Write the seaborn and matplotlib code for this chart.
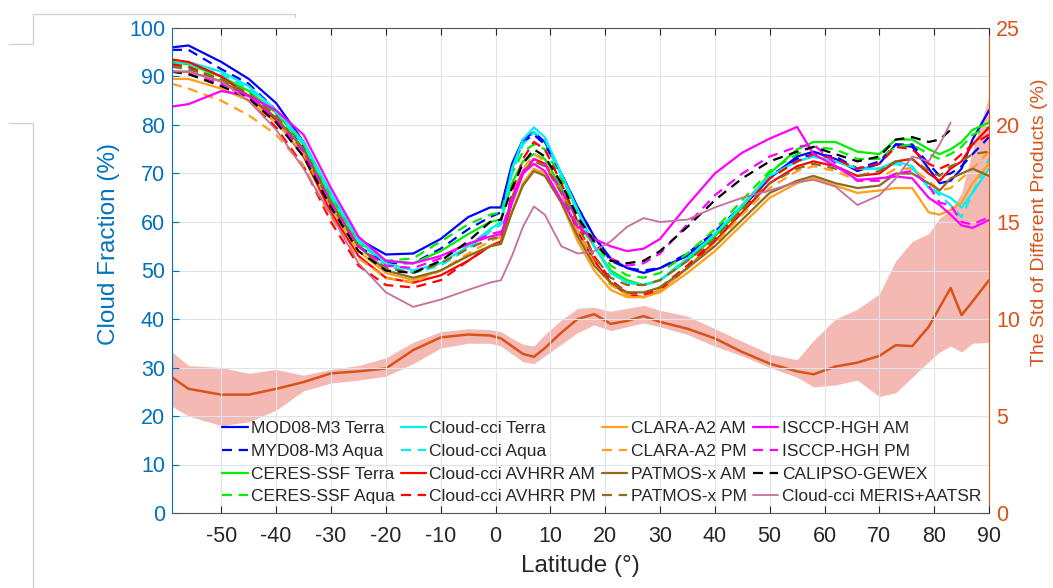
import numpy as np
import pandas as pd
import matplotlib
matplotlib.use("Agg")
import matplotlib.pyplot as plt
import seaborn as sns
from matplotlib.lines import Line2D

nan = np.nan
LAT = [-59, -56, -50, -45, -40, -35, -30, -25, -20, -15, -10, -5, -1, 1, 3, 5, 7, 9, 12, 15,
       18, 21, 24, 27, 30, 35, 40, 45, 50, 55, 58, 62, 66, 70, 73, 76, 79, 81, 83, 85, 87, 90]

MOD08_TERRA = [96, 96.4, 93, 89.5, 84.5, 76.5, 65.5, 56.5, 53.3, 53.5, 56.5, 61, 63, 63, 72, 77, 78.5, 76.5, 70, 63,
               57, 52.5, 50.5, 49.5, 50.5, 53, 57.5, 63, 69, 73.5, 74.5, 73, 70.5, 72, 76, 75.5, 71, 68, 68.5, 71, 77, 83]
MYD08_AQUA = [95.5, 95.5, 91.5, 88.5, 83, 75.5, 64, 55, 51.5, 51.5, 54.5, 58.5, 61, 62, 71, 76.5, 78, 76, 70, 63,
              57, 52, 50.5, 50, 50.5, 53.5, 58, 63.5, 69.5, 73, 74, 73.5, 71, 72.5, 76, 76, 72, 69.5, 70, 71.5, 74, 77.5]
CERES_TERRA = [93, 92.5, 90, 87, 82.5, 76, 65, 56, 52, 51.5, 54, 57.5, 60, 60.5, 68, 72.5, 74, 73, 67, 60,
               55, 50, 48, 47, 48, 52, 57, 63, 70, 75, 76.5, 76.5, 74.5, 74, 77, 77, 75, 74, 75, 76.5, 79, 80.5]
CERES_AQUA = [92.5, 92, 89.5, 86.5, 82, 75, 64.5, 55.5, 52, 52.5, 56, 59.5, 61.5, 62, 70, 74.5, 76, 75, 69, 62,
              56, 51, 49, 48.5, 49.5, 53.5, 58.5, 64.5, 70.5, 74, 75.5, 75, 73, 73, 75.5, 76, 74, 73, 74, 75.5, 78, 79.5]
CCI_TERRA = [92.5, 93, 91, 88, 83, 76.5, 66, 56.5, 51.5, 50, 51.5, 55, 58.5, 60, 71, 77, 79.5, 77.5, 70, 62.5,
             55, 49.5, 47.5, 47, 48, 52.5, 57.5, 63.5, 69.5, 72.5, 73.5, 72.5, 71, 71, 72.5, 71.5, 67, 66, 65, 63, 66, 71]
CCI_AQUA = [92, 92.5, 90.5, 87.5, 82.5, 76, 65.5, 56, 51, 49.5, 51, 54.5, 58, 59.5, 70, 76, 78.5, 77, 69.5, 62,
            55, 49.5, 47.5, 47, 48, 52.5, 57.5, 63.5, 69.5, 72.5, 73.5, 72.5, 71, 71, 72, 71, 67.5, 65.5, 63.5, 61, 66, 73]
AVHRR_AM = [93.5, 93, 90, 86, 81, 73.5, 62, 53, 48.5, 47.5, 49, 52, 55, 56, 64, 70, 73, 72, 66, 58,
            52, 47.5, 45, 44.5, 46, 50.5, 56, 62, 68, 71.5, 72.5, 71.5, 69.5, 70, 72.5, 73, 70, 68.5, 71, 72.5, 76, 79.5]
AVHRR_PM = [92.5, 92, 89, 85, 79.5, 71.5, 60, 51, 47, 46.5, 48, 52, 55, 56, 66, 73, 76.5, 75, 68, 60,
            53, 48, 45.5, 45, 46.5, 51, 56.5, 62.5, 69, 72.5, 74, 73, 71, 72, 75.5, 75, 72, 71, 72, 74, 76, 78]
CLARA_AM = [89.5, 89.5, 87.5, 85, 80.5, 74, 63, 54, 49.5, 48, 50, 53, 55, 55.5, 62, 68, 71, 70, 64, 56,
            50, 46, 44.5, 44.5, 45.5, 49.5, 54, 59.5, 65, 68, 69, 67.5, 66, 66.5, 67, 67, 62, 61.5, 62.5, 64, 68, 72]
CLARA_PM = [88.5, 87.5, 85, 82, 78, 71.5, 61, 52.5, 48.5, 47.5, 50, 53.5, 56, 57, 65, 71, 74, 72.5, 66, 58,
            51.5, 47, 45, 44.5, 46, 50.5, 55.5, 61.5, 67, 70.5, 71.5, 70.5, 68.5, 69, 71, 71, 68.5, 66.5, 67, 69, 71, 74.5]
PATMOS_AM = [91, 91, 89, 86, 81.5, 75, 64, 55, 50, 48.5, 50, 53, 55, 55.5, 62, 67.5, 70.5, 69.5, 64, 57,
             51, 47.5, 45.5, 45.5, 46.5, 50.5, 55, 60.5, 66, 68.5, 69.5, 68, 67, 67.5, 70, 70, 68, 66.5, 69, 70, 71, 69.5]
PATMOS_PM = [92, 91.5, 89.5, 86.5, 82, 74.5, 63.5, 55, 50.5, 49.5, 51.5, 54.5, 56.5, 57, 65, 70.5, 72.5, 71.5, 66, 59,
             53, 48.5, 47, 47, 48, 52, 56.5, 62.5, 68, 71, 72, 71, 69.5, 70.5, 72.5, 73, 70.5, 69.5, 71.5, 72.5, 74, 74.5]
ISCCP_AM = [83.8, 84.3, 87, 86, 83, 78, 67, 57, 52, 51.5, 53, 55.5, 57, 57.5, 64, 70, 72, 70.5, 64.5, 59,
            56.5, 55, 54, 54.5, 56.5, 63.5, 70, 74.3, 77.2, 79.6, 74, 71.5, 68.7, 69, 69.4, 69, 65, 63.5, 61.5, 59.3, 58.8, 60.4]
ISCCP_PM = [91, 90.5, 88.5, 86, 81, 74.5, 64, 55, 51, 50.5, 52.5, 55.5, 57.5, 58, 65, 70.5, 73, 72, 66.5, 60.5,
            55.5, 52.5, 51, 51.5, 53.5, 59.5, 65.5, 70, 73.5, 75.5, 76, 72, 68.5, 68.5, 70, 70.5, 67.5, 64, 63.5, 60, 59.5, 61]
CALIPSO = [91, 90.5, 88, 85.5, 80.5, 73.5, 63, 54, 50, 49.5, 52, 56, 60, 60.5, 67, 72, 75, 73.5, 68, 61,
           56, 52, 51.5, 52, 54, 59, 64.5, 69, 72.5, 74.5, 75.5, 74, 72.5, 73.5, 77, 77.5, 76.5, 77, 79, nan, nan, nan]
MERIS = [91, 91, 89, 85, 79, 71, 61.5, 51.5, 45.5, 42.5, 44, 46, 47.5, 48, 53, 59, 63.2, 61.5, 55, 53.5,
         54, 56, 59, 60.8, 60, 60.5, 63, 65, 66.5, 68.2, 68.7, 67.3, 63.5, 65.5, 69, 73.5, 72.5, 76, 80.5, nan, nan, nan]

# standard deviation of the products (right axis)
STD_MEAN = [7.0, 6.4, 6.1, 6.1, 6.4, 6.75, 7.2, 7.3, 7.45, 8.4, 9.05, 9.2, 9.15, 9.0, 8.6, 8.2, 8.05, 8.5, 9.3, 10.0,
            10.25, 9.75, 9.9, 10.15, 9.85, 9.5, 9.0, 8.3, 7.7, 7.3, 7.15, 7.55, 7.75, 8.1, 8.65, 8.6, 9.6, 10.6, 11.6, 10.2, 10.9, 12.0]
STD_LOW = [5.5, 5.0, 4.5, 4.7, 5.3, 6.3, 6.7, 6.85, 7.05, 7.7, 8.5, 8.75, 8.75, 8.6, 8.2, 7.8, 7.7, 8.1, 8.7, 9.3,
           9.7, 9.4, 9.6, 9.8, 9.6, 9.2, 8.6, 8.1, 7.5, 7.0, 6.5, 6.6, 6.85, 6.0, 6.2, 7.0, 7.8, 8.3, 8.6, 8.3, 8.75, 8.8]
STD_HIGH = [8.3, 7.6, 7.5, 7.2, 7.4, 7.1, 7.4, 7.6, 8.0, 8.8, 9.35, 9.5, 9.45, 9.35, 9.0, 8.7, 8.6, 9.2, 9.95, 10.55,
            10.6, 10.4, 10.55, 10.7, 10.45, 10.15, 9.5, 8.85, 8.2, 7.9, 8.9, 10.0, 10.5, 11.3, 13.0, 14.0, 14.4, 15.2, 15.6, 16.5, 18.7, 21.5]

SERIES = [
    ("MOD08-M3 Terra", MOD08_TERRA, "#0000FF", "-"),
    ("MYD08-M3 Aqua", MYD08_AQUA, "#0000FF", "--"),
    ("CERES-SSF Terra", CERES_TERRA, "#00EE00", "-"),
    ("CERES-SSF Aqua", CERES_AQUA, "#00EE00", "--"),
    ("Cloud-cci Terra", CCI_TERRA, "#00F0F0", "-"),
    ("Cloud-cci Aqua", CCI_AQUA, "#00F0F0", "--"),
    ("Cloud-cci AVHRR AM", AVHRR_AM, "#FF0000", "-"),
    ("Cloud-cci AVHRR PM", AVHRR_PM, "#FF0000", "--"),
    ("CLARA-A2 AM", CLARA_AM, "#FF9F1A", "-"),
    ("CLARA-A2 PM", CLARA_PM, "#FF9F1A", "--"),
    ("PATMOS-x AM", PATMOS_AM, "#8C6A1E", "-"),
    ("PATMOS-x PM", PATMOS_PM, "#8C6A1E", "--"),
    ("ISCCP-HGH AM", ISCCP_AM, "#FF00FF", "-"),
    ("ISCCP-HGH PM", ISCCP_PM, "#FF00FF", "--"),
    ("CALIPSO-GEWEX", CALIPSO, "#000000", "--"),
    ("Cloud-cci MERIS+AATSR", MERIS, "#C76E9C", "-"),
]

sns.set_theme(style="white")
plt.rcParams["font.family"] = ["Liberation Sans", "DejaVu Sans"]
plt.rcParams["axes.unicode_minus"] = False

BLUE = "#0072BD"
ORANGE = "#D95319"
DARK = "#262626"

fig = plt.figure(figsize=(10.53, 5.88), dpi=100)
ax = fig.add_axes([172 / 1053, 1 - 513 / 588, (989 - 172) / 1053, (513 - 28) / 588])
ax2 = ax.twinx()
ax.set_zorder(ax2.get_zorder() + 1)
ax.patch.set_visible(False)

# right axis: std band and mean
df_std = pd.DataFrame({"lat": LAT, "mean": STD_MEAN, "low": STD_LOW, "high": STD_HIGH})
ax2.fill_between(df_std["lat"], df_std["low"], df_std["high"], color="#F5B9B3", lw=0)
sns.lineplot(data=df_std, x="lat", y="mean", ax=ax2, color=ORANGE, lw=1.8)

# left axis: cloud fraction products
for name, vals, col, ls in SERIES:
    d = pd.DataFrame({"lat": LAT, "cf": vals}).dropna()
    lw = 1.3 if "MERIS" in name else 1.6
    sns.lineplot(data=d, x="lat", y="cf", ax=ax, color=col, lw=lw, linestyle=ls, label=name)
    if ls == "--":
        ax.lines[-1].set_dashes((4.5, 3.0))

ax.set_xlim(-59, 90)
ax.set_ylim(0, 100)
ax2.set_ylim(0, 25)
ax.set_xticks(list(range(-50, 91, 10)))
ax.set_yticks(list(range(0, 101, 10)))
ax2.set_yticks([0, 5, 10, 15, 20, 25])

ax.grid(True, color="#DCE5EC", lw=0.8)
ax2.grid(False)

ax.tick_params(axis="x", direction="in", top=True, bottom=True, length=5, width=0.8,
               labelsize=15.5, color=DARK, labelcolor=DARK, pad=9)
ax.tick_params(axis="y", direction="in", left=True, right=False, length=5, width=0.8,
               labelsize=15.5, color=BLUE, labelcolor=BLUE, pad=5)
ax2.tick_params(axis="y", direction="in", right=True, left=False, length=5, width=0.8,
                labelsize=15.5, color=ORANGE, labelcolor=ORANGE, pad=5)

for s in ["top", "bottom"]:
    ax.spines[s].set_color("#555555")
    ax.spines[s].set_linewidth(0.8)
ax.spines["left"].set_color(BLUE)
ax.spines["left"].set_linewidth(0.8)
ax.spines["right"].set_visible(False)
for s in ["left", "top", "bottom"]:
    ax2.spines[s].set_visible(False)
ax2.spines["right"].set_color(ORANGE)
ax2.spines["right"].set_linewidth(0.8)

ax.set_xlabel("Latitude (°)", fontsize=17.5, color=DARK)
ax.xaxis.set_label_coords(0.5, -0.087)
ax.set_ylabel("Cloud Fraction (%)", fontsize=17.5, color=BLUE)
ax.yaxis.set_label_coords(-0.064, 0.555)
ax2.set_ylabel("The Std of Different Products (%)", fontsize=14, color=ORANGE)
ax2.yaxis.set_label_coords(1.052, 0.6)

handles, labels = ax.get_legend_handles_labels()
ax.legend(handles, labels, ncol=4, frameon=False, loc="lower left",
          bbox_to_anchor=(0.051, 0.0), fontsize=12.5, handlelength=1.45,
          handletextpad=0.2, columnspacing=0.35, labelspacing=0.43, borderpad=0.2,
          borderaxespad=0.3)

# faint frame decorations of the original figure window
def fline(xs, ys):
    fig.add_artist(Line2D([x / 1053 for x in xs], [1 - y / 588 for y in ys],
                          transform=fig.transFigure, color="#D3D3D3", lw=1))

fline([9, 33, 33, 295, 295], [44, 44, 14, 14, 17])
fline([9, 33, 33], [123, 123, 588])

fig.savefig("out.png", dpi=100)
